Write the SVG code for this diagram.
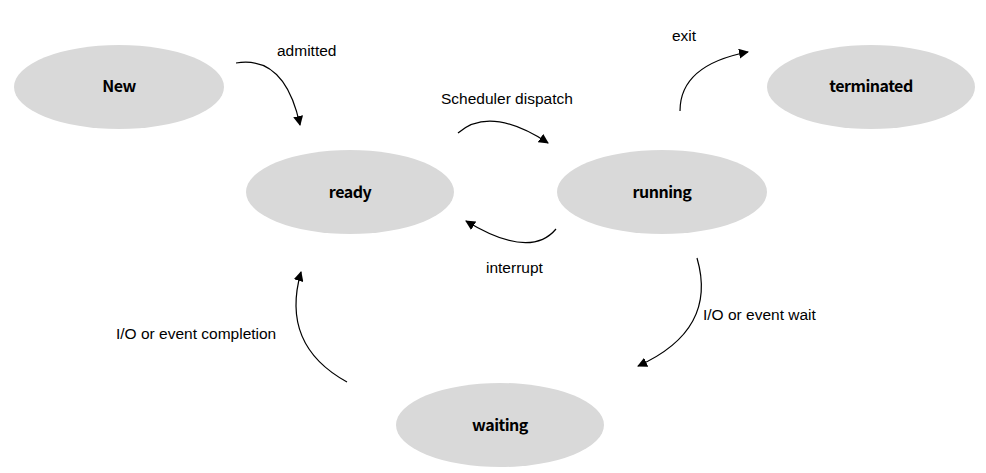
<svg xmlns="http://www.w3.org/2000/svg" width="986" height="473" viewBox="0 0 986 473">
<style>
.node ellipse{fill:#d9d9d9;stroke:none}
.node text{font-family:"Noto Sans CJK KR","Liberation Sans",sans-serif;font-weight:bold;font-size:16px;fill:#000;text-anchor:middle;letter-spacing:-0.5px}
.conn path{fill:none;stroke:#000;stroke-width:1.2;marker-end:url(#ah)}
.lbl{font-family:"Liberation Sans",Arial,sans-serif;font-size:15.5px;fill:#000}
</style>
<defs>
<marker id="ah" viewBox="0 0 10 10" refX="9" refY="5" markerWidth="10" markerHeight="10" markerUnits="userSpaceOnUse" orient="auto">
<path d="M0,0 L10,5 L0,10 z" fill="#000"/>
</marker>
</defs>
<rect width="986" height="473" fill="#fff"/>
<g id="new" class="node"><ellipse cx="119" cy="87" rx="105" ry="42"/><text x="119" y="92">New</text></g>
<g id="ready" class="node"><ellipse cx="350" cy="192" rx="104" ry="42"/><text x="350" y="198">ready</text></g>
<g id="running" class="node"><ellipse cx="662" cy="192" rx="105" ry="42"/><text x="662" y="198">running</text></g>
<g id="terminated" class="node"><ellipse cx="871" cy="87" rx="104" ry="42"/><text x="871" y="92">terminated</text></g>
<g id="waiting" class="node"><ellipse cx="500" cy="425" rx="104" ry="42"/><text x="500" y="431">waiting</text></g>
<g id="connectors" class="conn">
<path d="M236,63 Q285,55 300,125"/>
<path d="M458,133 Q490,105 548,143"/>
<path d="M556,229 Q530,260 466,221"/>
<path d="M680,111 Q680,65 748,52"/>
<path d="M697,258 Q718,330 638,366"/>
<path d="M347,382 Q280,345 301,272"/>
</g>
<g id="labels">
<text class="lbl" x="277" y="56">admitted</text>
<text class="lbl" x="441" y="104">Scheduler dispatch</text>
<text class="lbl" x="486" y="273">interrupt</text>
<text class="lbl" x="672" y="41">exit</text>
<text class="lbl" x="703" y="320">I/O or event wait</text>
<text class="lbl" x="116" y="339">I/O or event completion</text>
</g>
</svg>
